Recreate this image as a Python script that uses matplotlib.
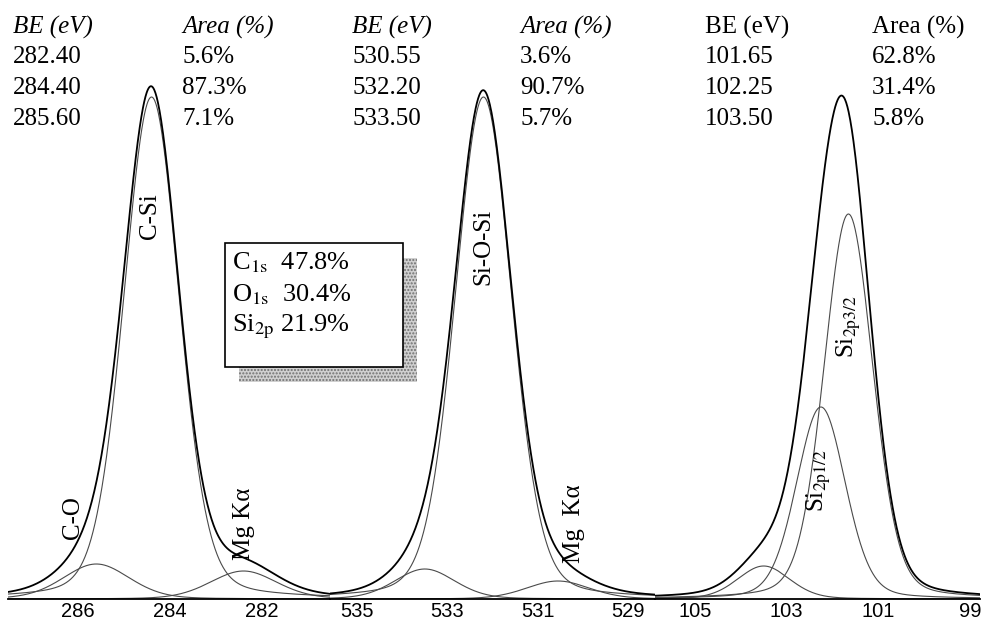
import numpy as np
import matplotlib.pyplot as plt
from matplotlib.patches import Rectangle

plt.rcParams['font.family'] = ['Liberation Serif', 'DejaVu Serif']
plt.rcParams['mathtext.fontset'] = 'stix'

# fitted components: centre (eV), height (a.u.), FWHM (eV)
c1s_be = [282.40, 284.40, 285.60]
c1s_height = [28, 502, 35]
c1s_fwhm = [1.70, 1.42, 1.70]

o1s_be = [530.55, 532.20, 533.50]
o1s_height = [18, 502, 30]
o1s_fwhm = [1.65, 1.48, 1.57]

si2p_be = [101.65, 102.25, 103.50]
si2p_height = [385, 192, 33]
si2p_fwhm = [1.26, 1.26, 1.34]

c1s_ticks = [286, 284, 282]
o1s_ticks = [535, 533, 531, 529]
si2p_ticks = [105, 103, 101, 99]

c1s_area = ['5.6%', '87.3%', '7.1%']
o1s_area = ['3.6%', '90.7%', '5.7%']
si2p_area = ['62.8%', '31.4%', '5.8%']
c1s_be_txt = ['282.40', '284.40', '285.60']
o1s_be_txt = ['530.55', '532.20', '533.50']
si2p_be_txt = ['101.65', '102.25', '103.50']

comp_names = ['C', 'O', 'Si']
comp_subs = ['1s', '1s', '2p']
comp_pct = ['47.8%', '30.4%', '21.9%']


def pvoigt(x, c, h, w, eta=0.2):
    u = (x - c) / w
    return h * ((1 - eta) * np.exp(-4 * np.log(2) * u ** 2) + eta / (1 + 4 * u ** 2))


W, H = 986, 622
fig = plt.figure(figsize=(W / 100, H / 100), dpi=100)

# panel extents in pixels and x limits (reversed binding energy)
panels = [
    (8, 330, (287.52, 280.52), c1s_be, c1s_height, c1s_fwhm, c1s_ticks),
    (330, 655, (535.60, 528.40), o1s_be, o1s_height, o1s_fwhm, o1s_ticks),
    (655, 980, (105.87, 98.78), si2p_be, si2p_height, si2p_fwhm, si2p_ticks),
]
base = 599
axes = []
for x0, x1, xl, be, hh, ww, ticks in panels:
    ax = fig.add_axes([x0 / W, (H - base) / H, (x1 - x0) / W, base / H])
    x = np.linspace(min(xl), max(xl), 800)
    total = np.zeros_like(x)
    for c, h, w in zip(be, hh, ww):
        y = pvoigt(x, c, h, w)
        total += y
        ax.plot(x, y, color='#4a4a4a', lw=0.8)
    ax.plot(x, total, color='black', lw=1.3)
    ax.set_xlim(*xl)
    ax.set_ylim(0, base)
    ax.set_xticks(ticks)
    ax.set_xticklabels([str(t) for t in ticks], family=['Liberation Sans', 'DejaVu Sans'], fontsize=14.5)
    ax.tick_params(axis='x', length=0, pad=2)
    ax.set_yticks([])
    for s in ['top', 'left', 'right']:
        ax.spines[s].set_visible(False)
    ax.spines['bottom'].set_linewidth(1.3)
    ax.patch.set_alpha(0)
    axes.append(ax)

ax1, ax2, ax3 = axes
lab = dict(rotation=90, ha='center', va='center', fontsize=18)
ax1.text(286.1, 81, 'C-O', **lab)
ax1.text(284.43, 383, 'C-Si', **lab)
ax1.text(282.4, 75, 'Mg Kα', **lab)
ax2.text(532.2, 352, 'Si-O-Si', **lab)
ax2.text(530.2, 75, 'Mg  Kα', **lab)
ax3.text(101.63, 272, r'Si$_{\mathrm{2p3/2}}$', **lab)
ax3.text(102.3, 118, r'Si$_{\mathrm{2p1/2}}$', **lab)


def ftext(px, py, s, **kw):
    fig.text(px / W, 1 - py / H, s, va='center', ha='left', **kw)


rows_y = [27, 57, 88, 119]
tables = [
    (13, 182, 'italic', c1s_be_txt, c1s_area),
    (352, 520, 'italic', o1s_be_txt, o1s_area),
    (705, 872, 'normal', si2p_be_txt, si2p_area),
]
for xb, xa, style, bes, areas in tables:
    ftext(xb, rows_y[0], 'BE (eV)', fontsize=18, style=style)
    ftext(xa, rows_y[0], 'Area (%)', fontsize=18, style=style)
    for yy, b, a in zip(rows_y[1:], bes, areas):
        ftext(xb, yy, b, fontsize=18)
        ftext(xa, yy, a, fontsize=18)

# composition box with dotted shadow
bl, bt, br, bb = 225, 243, 403, 367
fig.patches.append(Rectangle(((bl + 14) / W, 1 - (bb + 15) / H), (br - bl) / W, (bb - bt) / H,
                             transform=fig.transFigure, facecolor='#d0d0d0', edgecolor='#707070',
                             lw=0, hatch='.....', zorder=1))
fig.patches.append(Rectangle((bl / W, 1 - bb / H), (br - bl) / W, (bb - bt) / H,
                             transform=fig.transFigure, facecolor='white', edgecolor='black',
                             lw=1.2, zorder=2))
for yy, n, sb, p in zip([263, 295, 327], comp_names, comp_subs, comp_pct):
    gap = '  ' if n != 'Si' else ' '
    ftext(232, yy, n + r'$_{\mathrm{' + sb + '}}$' + gap + p, fontsize=19, zorder=3)

fig.savefig('out.png', dpi=100)
